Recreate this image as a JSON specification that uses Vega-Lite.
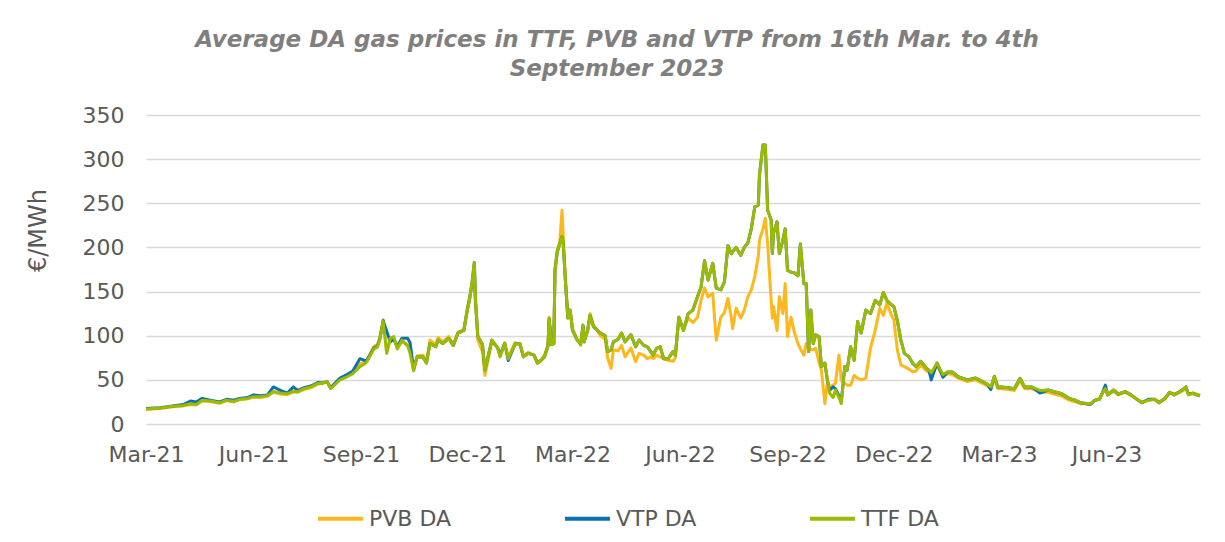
{
"$schema": "https://vega.github.io/schema/vega-lite/v6.json",
"width": 1054, "height": 309,
"autosize": {"type": "none"},
"padding": {"left": 146, "top": 115, "right": 25, "bottom": 118},
"background": "white",
"config": {"view": {"stroke": null}, "font": "DejaVu Sans"},
"title": {"text": ["Average DA gas prices in TTF, PVB and VTP from 16th Mar. to 4th", "September 2023"], "font": "DejaVu Sans", "fontSize": 23, "fontWeight": "bold", "fontStyle": "italic", "color": "#7F7F7F", "anchor": "middle", "dx": -56, "offset": 23, "lineHeight": 29},
"data": {"values": [
{"date":"2021-03-16","TTF DA":17,"PVB DA":16.5,"VTP DA":17.5},
{"date":"2021-03-28","TTF DA":18,"PVB DA":17.5,"VTP DA":18.5},
{"date":"2021-04-08","TTF DA":20,"PVB DA":19.5,"VTP DA":20.5},
{"date":"2021-04-17","TTF DA":21,"PVB DA":20.5,"VTP DA":22},
{"date":"2021-04-23","TTF DA":23,"PVB DA":22,"VTP DA":26},
{"date":"2021-04-28","TTF DA":22,"PVB DA":21.5,"VTP DA":25},
{"date":"2021-05-03","TTF DA":27,"PVB DA":26,"VTP DA":29},
{"date":"2021-05-10","TTF DA":26,"PVB DA":25.5,"VTP DA":27},
{"date":"2021-05-18","TTF DA":24,"PVB DA":23.5,"VTP DA":25},
{"date":"2021-05-24","TTF DA":27,"PVB DA":26.5,"VTP DA":28},
{"date":"2021-05-30","TTF DA":25.5,"PVB DA":25,"VTP DA":27},
{"date":"2021-06-04","TTF DA":28,"PVB DA":27.5,"VTP DA":29},
{"date":"2021-06-11","TTF DA":29,"PVB DA":28.5,"VTP DA":30},
{"date":"2021-06-16","TTF DA":31,"PVB DA":30.5,"VTP DA":33},
{"date":"2021-06-22","TTF DA":31,"PVB DA":30,"VTP DA":32},
{"date":"2021-06-28","TTF DA":32,"PVB DA":31.5,"VTP DA":33},
{"date":"2021-07-03","TTF DA":37,"PVB DA":36,"VTP DA":42},
{"date":"2021-07-09","TTF DA":35,"PVB DA":34,"VTP DA":38},
{"date":"2021-07-15","TTF DA":34,"PVB DA":33.5,"VTP DA":35},
{"date":"2021-07-20","TTF DA":37,"PVB DA":36,"VTP DA":42},
{"date":"2021-07-24","TTF DA":36.5,"PVB DA":36,"VTP DA":38},
{"date":"2021-07-29","TTF DA":40,"PVB DA":39,"VTP DA":41},
{"date":"2021-08-04","TTF DA":42,"PVB DA":41,"VTP DA":43},
{"date":"2021-08-10","TTF DA":46,"PVB DA":45,"VTP DA":47},
{"date":"2021-08-14","TTF DA":46,"PVB DA":46,"VTP DA":46.5},
{"date":"2021-08-18","TTF DA":48,"PVB DA":48,"VTP DA":48},
{"date":"2021-08-21","TTF DA":40,"PVB DA":40.5,"VTP DA":41},
{"date":"2021-08-29","TTF DA":50,"PVB DA":50.5,"VTP DA":52},
{"date":"2021-09-04","TTF DA":53.5,"PVB DA":54,"VTP DA":56},
{"date":"2021-09-09","TTF DA":57,"PVB DA":58,"VTP DA":60},
{"date":"2021-09-15","TTF DA":65,"PVB DA":68,"VTP DA":74},
{"date":"2021-09-19","TTF DA":68,"PVB DA":70,"VTP DA":72},
{"date":"2021-09-21","TTF DA":70.5,"PVB DA":72,"VTP DA":72},
{"date":"2021-09-27","TTF DA":85,"PVB DA":88,"VTP DA":86},
{"date":"2021-09-30","TTF DA":87,"PVB DA":90,"VTP DA":88},
{"date":"2021-10-02","TTF DA":95,"PVB DA":97,"VTP DA":96},
{"date":"2021-10-05","TTF DA":116,"PVB DA":118,"VTP DA":117},
{"date":"2021-10-08","TTF DA":80,"PVB DA":82,"VTP DA":105},
{"date":"2021-10-11","TTF DA":97,"PVB DA":96,"VTP DA":93},
{"date":"2021-10-14","TTF DA":99,"PVB DA":98,"VTP DA":96},
{"date":"2021-10-17","TTF DA":85,"PVB DA":86,"VTP DA":88},
{"date":"2021-10-21","TTF DA":95,"PVB DA":93,"VTP DA":97},
{"date":"2021-10-26","TTF DA":88,"PVB DA":90,"VTP DA":97},
{"date":"2021-10-28","TTF DA":80,"PVB DA":85,"VTP DA":92},
{"date":"2021-10-31","TTF DA":61,"PVB DA":60,"VTP DA":62},
{"date":"2021-11-03","TTF DA":76,"PVB DA":77,"VTP DA":76},
{"date":"2021-11-08","TTF DA":76,"PVB DA":78,"VTP DA":76},
{"date":"2021-11-11","TTF DA":69,"PVB DA":70,"VTP DA":69},
{"date":"2021-11-14","TTF DA":91,"PVB DA":95,"VTP DA":91},
{"date":"2021-11-19","TTF DA":87.5,"PVB DA":90,"VTP DA":87.5},
{"date":"2021-11-21","TTF DA":95,"PVB DA":98,"VTP DA":95},
{"date":"2021-11-25","TTF DA":91,"PVB DA":93,"VTP DA":91},
{"date":"2021-11-30","TTF DA":97,"PVB DA":99,"VTP DA":97},
{"date":"2021-12-04","TTF DA":89,"PVB DA":90,"VTP DA":89},
{"date":"2021-12-08","TTF DA":103,"PVB DA":104,"VTP DA":103},
{"date":"2021-12-13","TTF DA":106,"PVB DA":107,"VTP DA":106},
{"date":"2021-12-16","TTF DA":129,"PVB DA":132,"VTP DA":129},
{"date":"2021-12-18","TTF DA":142,"PVB DA":145,"VTP DA":142},
{"date":"2021-12-20","TTF DA":160,"PVB DA":157,"VTP DA":160},
{"date":"2021-12-22","TTF DA":183,"PVB DA":155,"VTP DA":183},
{"date":"2021-12-23","TTF DA":140,"PVB DA":135,"VTP DA":140},
{"date":"2021-12-25","TTF DA":99,"PVB DA":95,"VTP DA":99},
{"date":"2021-12-29","TTF DA":90,"PVB DA":82,"VTP DA":90},
{"date":"2021-12-31","TTF DA":61,"PVB DA":55,"VTP DA":61},
{"date":"2022-01-06","TTF DA":95,"PVB DA":93,"VTP DA":95},
{"date":"2022-01-11","TTF DA":86,"PVB DA":87,"VTP DA":86},
{"date":"2022-01-13","TTF DA":76,"PVB DA":77,"VTP DA":78},
{"date":"2022-01-17","TTF DA":91,"PVB DA":92,"VTP DA":91},
{"date":"2022-01-20","TTF DA":74,"PVB DA":76,"VTP DA":72},
{"date":"2022-01-26","TTF DA":91,"PVB DA":92,"VTP DA":91},
{"date":"2022-01-30","TTF DA":91,"PVB DA":90,"VTP DA":91},
{"date":"2022-02-02","TTF DA":76,"PVB DA":77,"VTP DA":76},
{"date":"2022-02-06","TTF DA":80,"PVB DA":81,"VTP DA":80},
{"date":"2022-02-11","TTF DA":78,"PVB DA":78,"VTP DA":78},
{"date":"2022-02-14","TTF DA":69,"PVB DA":70,"VTP DA":69},
{"date":"2022-02-17","TTF DA":72,"PVB DA":72,"VTP DA":72},
{"date":"2022-02-20","TTF DA":76,"PVB DA":78,"VTP DA":76},
{"date":"2022-02-23","TTF DA":88,"PVB DA":90,"VTP DA":88},
{"date":"2022-02-24","TTF DA":119,"PVB DA":121,"VTP DA":119},
{"date":"2022-02-26","TTF DA":90,"PVB DA":92,"VTP DA":90},
{"date":"2022-02-28","TTF DA":91,"PVB DA":92,"VTP DA":91},
{"date":"2022-03-01","TTF DA":174,"PVB DA":176,"VTP DA":174},
{"date":"2022-03-03","TTF DA":195,"PVB DA":198,"VTP DA":195},
{"date":"2022-03-05","TTF DA":204,"PVB DA":205,"VTP DA":204},
{"date":"2022-03-07","TTF DA":212,"PVB DA":242,"VTP DA":212},
{"date":"2022-03-08","TTF DA":205,"PVB DA":215,"VTP DA":205},
{"date":"2022-03-10","TTF DA":160,"PVB DA":165,"VTP DA":160},
{"date":"2022-03-12","TTF DA":120,"PVB DA":125,"VTP DA":120},
{"date":"2022-03-14","TTF DA":129,"PVB DA":128,"VTP DA":129},
{"date":"2022-03-16","TTF DA":106,"PVB DA":108,"VTP DA":106},
{"date":"2022-03-20","TTF DA":95,"PVB DA":96,"VTP DA":95},
{"date":"2022-03-23","TTF DA":91,"PVB DA":89,"VTP DA":91},
{"date":"2022-03-25","TTF DA":112,"PVB DA":110,"VTP DA":112},
{"date":"2022-03-26","TTF DA":93,"PVB DA":94,"VTP DA":93},
{"date":"2022-03-29","TTF DA":106,"PVB DA":108,"VTP DA":106},
{"date":"2022-03-31","TTF DA":123,"PVB DA":125,"VTP DA":123},
{"date":"2022-04-03","TTF DA":110,"PVB DA":112,"VTP DA":110},
{"date":"2022-04-09","TTF DA":103,"PVB DA":100,"VTP DA":103},
{"date":"2022-04-13","TTF DA":100,"PVB DA":96,"VTP DA":100},
{"date":"2022-04-15","TTF DA":82,"PVB DA":75,"VTP DA":82},
{"date":"2022-04-18","TTF DA":84,"PVB DA":63,"VTP DA":84},
{"date":"2022-04-20","TTF DA":93,"PVB DA":84,"VTP DA":93},
{"date":"2022-04-24","TTF DA":96,"PVB DA":83,"VTP DA":96},
{"date":"2022-04-27","TTF DA":103,"PVB DA":89,"VTP DA":103},
{"date":"2022-04-30","TTF DA":93,"PVB DA":76,"VTP DA":93},
{"date":"2022-05-05","TTF DA":101,"PVB DA":86,"VTP DA":101},
{"date":"2022-05-09","TTF DA":87.5,"PVB DA":70.5,"VTP DA":87.5},
{"date":"2022-05-12","TTF DA":95,"PVB DA":80,"VTP DA":95},
{"date":"2022-05-16","TTF DA":89,"PVB DA":78,"VTP DA":89},
{"date":"2022-05-19","TTF DA":87.5,"PVB DA":74,"VTP DA":87.5},
{"date":"2022-05-22","TTF DA":82,"PVB DA":76,"VTP DA":82},
{"date":"2022-05-24","TTF DA":78,"PVB DA":74,"VTP DA":78},
{"date":"2022-05-27","TTF DA":85.6,"PVB DA":78,"VTP DA":85.6},
{"date":"2022-05-30","TTF DA":87.5,"PVB DA":76,"VTP DA":87.5},
{"date":"2022-06-02","TTF DA":74,"PVB DA":74,"VTP DA":74},
{"date":"2022-06-06","TTF DA":74,"PVB DA":72,"VTP DA":74},
{"date":"2022-06-10","TTF DA":82,"PVB DA":71,"VTP DA":82},
{"date":"2022-06-12","TTF DA":78,"PVB DA":75,"VTP DA":78},
{"date":"2022-06-15","TTF DA":121,"PVB DA":119,"VTP DA":121},
{"date":"2022-06-19","TTF DA":106,"PVB DA":108,"VTP DA":106},
{"date":"2022-06-23","TTF DA":125,"PVB DA":120,"VTP DA":125},
{"date":"2022-06-27","TTF DA":129,"PVB DA":115,"VTP DA":129},
{"date":"2022-07-01","TTF DA":144,"PVB DA":121,"VTP DA":144},
{"date":"2022-07-04","TTF DA":155,"PVB DA":140,"VTP DA":155},
{"date":"2022-07-07","TTF DA":185,"PVB DA":154,"VTP DA":185},
{"date":"2022-07-10","TTF DA":163,"PVB DA":144,"VTP DA":163},
{"date":"2022-07-14","TTF DA":182,"PVB DA":148,"VTP DA":182},
{"date":"2022-07-17","TTF DA":154,"PVB DA":95,"VTP DA":154},
{"date":"2022-07-21","TTF DA":152,"PVB DA":121,"VTP DA":152},
{"date":"2022-07-24","TTF DA":161,"PVB DA":126,"VTP DA":161},
{"date":"2022-07-27","TTF DA":202,"PVB DA":142,"VTP DA":202},
{"date":"2022-07-30","TTF DA":193,"PVB DA":120,"VTP DA":193},
{"date":"2022-07-31","TTF DA":195,"PVB DA":108,"VTP DA":195},
{"date":"2022-08-03","TTF DA":200,"PVB DA":131,"VTP DA":200},
{"date":"2022-08-07","TTF DA":191,"PVB DA":120,"VTP DA":191},
{"date":"2022-08-10","TTF DA":200,"PVB DA":129,"VTP DA":200},
{"date":"2022-08-13","TTF DA":205,"PVB DA":144,"VTP DA":205},
{"date":"2022-08-16","TTF DA":221,"PVB DA":152,"VTP DA":221},
{"date":"2022-08-19","TTF DA":246,"PVB DA":167,"VTP DA":246},
{"date":"2022-08-22","TTF DA":248,"PVB DA":190,"VTP DA":248},
{"date":"2022-08-23","TTF DA":282,"PVB DA":208,"VTP DA":282},
{"date":"2022-08-26","TTF DA":316,"PVB DA":221,"VTP DA":316},
{"date":"2022-08-28","TTF DA":316,"PVB DA":233,"VTP DA":316},
{"date":"2022-08-30","TTF DA":242,"PVB DA":204,"VTP DA":242},
{"date":"2022-09-02","TTF DA":231,"PVB DA":140,"VTP DA":231},
{"date":"2022-09-03","TTF DA":193,"PVB DA":120,"VTP DA":193},
{"date":"2022-09-04","TTF DA":216,"PVB DA":133,"VTP DA":216},
{"date":"2022-09-07","TTF DA":229,"PVB DA":106,"VTP DA":229},
{"date":"2022-09-09","TTF DA":193,"PVB DA":144,"VTP DA":193},
{"date":"2022-09-12","TTF DA":208,"PVB DA":125,"VTP DA":208},
{"date":"2022-09-14","TTF DA":221,"PVB DA":159,"VTP DA":221},
{"date":"2022-09-16","TTF DA":174,"PVB DA":99,"VTP DA":174},
{"date":"2022-09-19","TTF DA":172,"PVB DA":121,"VTP DA":172},
{"date":"2022-09-22","TTF DA":171,"PVB DA":103,"VTP DA":171},
{"date":"2022-09-25","TTF DA":168,"PVB DA":91,"VTP DA":168},
{"date":"2022-09-27","TTF DA":204,"PVB DA":85,"VTP DA":204},
{"date":"2022-09-30","TTF DA":159,"PVB DA":78,"VTP DA":159},
{"date":"2022-10-02","TTF DA":159,"PVB DA":91,"VTP DA":159},
{"date":"2022-10-04","TTF DA":82,"PVB DA":88,"VTP DA":82},
{"date":"2022-10-06","TTF DA":129,"PVB DA":84,"VTP DA":129},
{"date":"2022-10-08","TTF DA":91,"PVB DA":84,"VTP DA":91},
{"date":"2022-10-10","TTF DA":101,"PVB DA":86,"VTP DA":101},
{"date":"2022-10-13","TTF DA":99,"PVB DA":70,"VTP DA":99},
{"date":"2022-10-15","TTF DA":65,"PVB DA":61,"VTP DA":65},
{"date":"2022-10-18","TTF DA":69,"PVB DA":23,"VTP DA":69},
{"date":"2022-10-20","TTF DA":52,"PVB DA":46,"VTP DA":50},
{"date":"2022-10-22","TTF DA":35,"PVB DA":42,"VTP DA":38},
{"date":"2022-10-25","TTF DA":30,"PVB DA":44,"VTP DA":42},
{"date":"2022-10-27","TTF DA":38.5,"PVB DA":46,"VTP DA":40},
{"date":"2022-10-30","TTF DA":30,"PVB DA":78,"VTP DA":32},
{"date":"2022-11-01","TTF DA":23,"PVB DA":50,"VTP DA":25},
{"date":"2022-11-04","TTF DA":65,"PVB DA":46,"VTP DA":65},
{"date":"2022-11-06","TTF DA":61,"PVB DA":44,"VTP DA":61},
{"date":"2022-11-09","TTF DA":87.5,"PVB DA":44,"VTP DA":87.5},
{"date":"2022-11-12","TTF DA":72,"PVB DA":55,"VTP DA":72},
{"date":"2022-11-15","TTF DA":116,"PVB DA":52,"VTP DA":116},
{"date":"2022-11-18","TTF DA":103,"PVB DA":50,"VTP DA":103},
{"date":"2022-11-22","TTF DA":129,"PVB DA":52,"VTP DA":129},
{"date":"2022-11-26","TTF DA":125,"PVB DA":86,"VTP DA":125},
{"date":"2022-11-30","TTF DA":140,"PVB DA":106,"VTP DA":140},
{"date":"2022-12-04","TTF DA":135,"PVB DA":131,"VTP DA":135},
{"date":"2022-12-07","TTF DA":149,"PVB DA":123,"VTP DA":149},
{"date":"2022-12-10","TTF DA":140,"PVB DA":137,"VTP DA":140},
{"date":"2022-12-14","TTF DA":135,"PVB DA":123,"VTP DA":135},
{"date":"2022-12-16","TTF DA":133,"PVB DA":118,"VTP DA":133},
{"date":"2022-12-19","TTF DA":117,"PVB DA":84,"VTP DA":117},
{"date":"2022-12-22","TTF DA":95,"PVB DA":67,"VTP DA":95},
{"date":"2022-12-25","TTF DA":80,"PVB DA":65,"VTP DA":80},
{"date":"2022-12-29","TTF DA":76,"PVB DA":62,"VTP DA":76},
{"date":"2023-01-01","TTF DA":69,"PVB DA":59,"VTP DA":69},
{"date":"2023-01-04","TTF DA":65,"PVB DA":60,"VTP DA":65},
{"date":"2023-01-08","TTF DA":71,"PVB DA":67,"VTP DA":71},
{"date":"2023-01-13","TTF DA":63,"PVB DA":60,"VTP DA":63},
{"date":"2023-01-15","TTF DA":61,"PVB DA":59,"VTP DA":61},
{"date":"2023-01-17","TTF DA":58,"PVB DA":55,"VTP DA":50},
{"date":"2023-01-22","TTF DA":69,"PVB DA":66,"VTP DA":69},
{"date":"2023-01-27","TTF DA":56,"PVB DA":54,"VTP DA":53},
{"date":"2023-01-31","TTF DA":59,"PVB DA":57,"VTP DA":59},
{"date":"2023-02-04","TTF DA":59,"PVB DA":56,"VTP DA":59},
{"date":"2023-02-09","TTF DA":53.5,"PVB DA":52,"VTP DA":53.5},
{"date":"2023-02-17","TTF DA":50,"PVB DA":48,"VTP DA":50},
{"date":"2023-02-24","TTF DA":52,"PVB DA":50,"VTP DA":52},
{"date":"2023-03-02","TTF DA":48,"PVB DA":46,"VTP DA":48},
{"date":"2023-03-06","TTF DA":45,"PVB DA":43,"VTP DA":45},
{"date":"2023-03-09","TTF DA":42,"PVB DA":41,"VTP DA":39},
{"date":"2023-03-12","TTF DA":54,"PVB DA":51,"VTP DA":54},
{"date":"2023-03-15","TTF DA":42,"PVB DA":40,"VTP DA":42},
{"date":"2023-03-18","TTF DA":42,"PVB DA":40,"VTP DA":42},
{"date":"2023-03-24","TTF DA":41,"PVB DA":39,"VTP DA":41},
{"date":"2023-03-29","TTF DA":40,"PVB DA":38,"VTP DA":40},
{"date":"2023-04-03","TTF DA":51.7,"PVB DA":49,"VTP DA":51.7},
{"date":"2023-04-07","TTF DA":42,"PVB DA":40,"VTP DA":42},
{"date":"2023-04-13","TTF DA":42,"PVB DA":40,"VTP DA":42},
{"date":"2023-04-20","TTF DA":38,"PVB DA":36,"VTP DA":35},
{"date":"2023-04-27","TTF DA":38.5,"PVB DA":36,"VTP DA":38.5},
{"date":"2023-05-02","TTF DA":36.6,"PVB DA":34,"VTP DA":36.6},
{"date":"2023-05-08","TTF DA":34.7,"PVB DA":32,"VTP DA":34.7},
{"date":"2023-05-15","TTF DA":29,"PVB DA":27,"VTP DA":29},
{"date":"2023-05-20","TTF DA":27,"PVB DA":25,"VTP DA":27},
{"date":"2023-05-25","TTF DA":24,"PVB DA":23,"VTP DA":24},
{"date":"2023-06-02","TTF DA":22.6,"PVB DA":23,"VTP DA":22},
{"date":"2023-06-06","TTF DA":27,"PVB DA":26,"VTP DA":27},
{"date":"2023-06-10","TTF DA":28,"PVB DA":29,"VTP DA":28},
{"date":"2023-06-13","TTF DA":36.6,"PVB DA":36,"VTP DA":37},
{"date":"2023-06-15","TTF DA":40,"PVB DA":38,"VTP DA":44},
{"date":"2023-06-17","TTF DA":33,"PVB DA":33,"VTP DA":33},
{"date":"2023-06-22","TTF DA":38.5,"PVB DA":37,"VTP DA":38.5},
{"date":"2023-06-26","TTF DA":34,"PVB DA":33,"VTP DA":34},
{"date":"2023-07-02","TTF DA":36.6,"PVB DA":36,"VTP DA":36.6},
{"date":"2023-07-07","TTF DA":33,"PVB DA":32,"VTP DA":33},
{"date":"2023-07-16","TTF DA":24,"PVB DA":25,"VTP DA":24},
{"date":"2023-07-22","TTF DA":27,"PVB DA":27,"VTP DA":28},
{"date":"2023-07-27","TTF DA":28,"PVB DA":28,"VTP DA":28},
{"date":"2023-07-31","TTF DA":24,"PVB DA":25,"VTP DA":24},
{"date":"2023-08-05","TTF DA":29,"PVB DA":28,"VTP DA":29},
{"date":"2023-08-09","TTF DA":36,"PVB DA":35,"VTP DA":36},
{"date":"2023-08-13","TTF DA":33,"PVB DA":34,"VTP DA":33},
{"date":"2023-08-18","TTF DA":36.6,"PVB DA":36,"VTP DA":37},
{"date":"2023-08-23","TTF DA":42,"PVB DA":40,"VTP DA":42},
{"date":"2023-08-25","TTF DA":33,"PVB DA":34,"VTP DA":34},
{"date":"2023-08-29","TTF DA":35,"PVB DA":34,"VTP DA":35},
{"date":"2023-09-01","TTF DA":33,"PVB DA":34,"VTP DA":33},
{"date":"2023-09-04","TTF DA":32,"PVB DA":33,"VTP DA":32}
]},
"transform": [{"fold": ["PVB DA", "VTP DA", "TTF DA"], "as": ["series", "price"]}],
"mark": {"type": "line", "strokeWidth": 3, "strokeJoin": "round"},
"encoding": {
  "x": {"field": "date", "type": "temporal",
    "scale": {"type": "utc", "domain": [{"year": 2021, "month": 3, "date": 16, "utc": true}, {"year": 2023, "month": 9, "date": 4, "utc": true}]},
    "axis": {"values": [
      {"year": 2021, "month": 3, "date": 16, "utc": true},
      {"year": 2021, "month": 6, "date": 16, "utc": true},
      {"year": 2021, "month": 9, "date": 16, "utc": true},
      {"year": 2021, "month": 12, "date": 16, "utc": true},
      {"year": 2022, "month": 3, "date": 16, "utc": true},
      {"year": 2022, "month": 6, "date": 16, "utc": true},
      {"year": 2022, "month": 9, "date": 16, "utc": true},
      {"year": 2022, "month": 12, "date": 16, "utc": true},
      {"year": 2023, "month": 3, "date": 16, "utc": true},
      {"year": 2023, "month": 6, "date": 16, "utc": true}
    ], "labelExpr": "utcFormat(datum.value, '%b-%y')", "title": null, "grid": false, "domain": false, "ticks": false, "tickSize": 0, "labelFlush": false, "labelOverlap": false, "labelFontSize": 22, "labelColor": "#595959", "labelPadding": 20, "labelFont": "DejaVu Sans"}},
  "y": {"field": "price", "type": "quantitative",
    "scale": {"domain": [0, 350]},
    "axis": {"values": [0, 50, 100, 150, 200, 250, 300, 350], "title": "€/MWh", "titleFont": "DejaVu Sans", "titleFontSize": 24, "titleFontWeight": "normal", "titleColor": "#595959", "titlePadding": 32, "titleY": 115, "labelFont": "DejaVu Sans", "labelFontSize": 22, "labelColor": "#595959", "labelPadding": 22, "ticks": false, "tickSize": 0, "domain": false, "gridColor": "#D9D9D9", "gridWidth": 1.5}},
  "color": {"field": "series", "type": "nominal",
    "scale": {"domain": ["PVB DA", "VTP DA", "TTF DA"], "range": ["#FFB81C", "#0B72B0", "#9BBA00"]},
    "legend": {"title": null, "orient": "none", "direction": "horizontal", "legendX": 170, "legendY": 379, "labelFont": "DejaVu Sans", "labelFontSize": 22, "labelColor": "#595959", "symbolType": "stroke", "symbolSize": 2025, "symbolStrokeWidth": 4, "columnPadding": 105, "labelOffset": 4, "padding": 0}}
}
}
